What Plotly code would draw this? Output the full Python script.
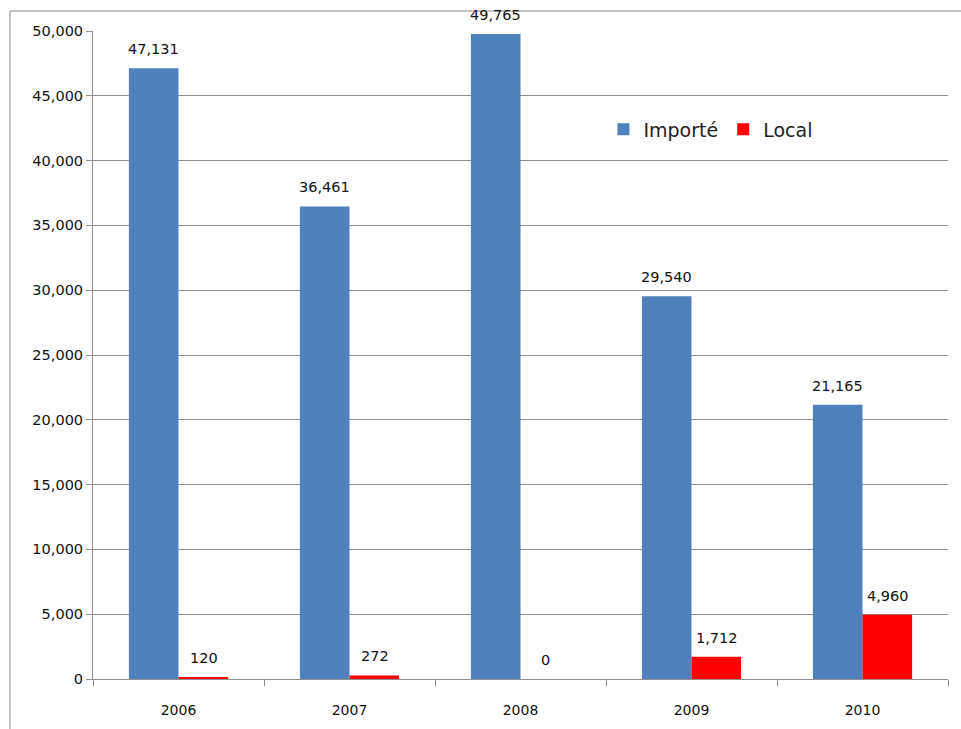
import plotly.graph_objects as go

years = ["2006", "2007", "2008", "2009", "2010"]
importe = [47131, 36461, 49765, 29540, 21165]
local = [120, 272, 0, 1712, 4960]

font_family = "DejaVu Sans, Verdana, sans-serif"

fig = go.Figure()
fig.add_trace(go.Bar(
    x=years, y=importe, name="Importé", marker_color="#4F81BD",
    marker_line_width=0,
))
fig.add_trace(go.Bar(
    x=years, y=local, name="Local", marker_color="#FF0000",
    marker_line_width=0,
))

# data labels above bars (x given as category index)
for vals, shift in ((importe, -25), (local, 25)):
    for i, yv in enumerate(vals):
        fig.add_annotation(
            x=i, y=yv, xref="x", yref="y", text=f"{yv:,}",
            showarrow=False, xshift=shift, yshift=9, yanchor="bottom",
            font=dict(size=14.5, color="#111", family=font_family),
        )

fig.update_layout(
    width=961, height=729,
    margin=dict(l=93, r=13, t=31, b=50),
    paper_bgcolor="white", plot_bgcolor="white",
    barmode="group", bargap=0.42, bargroupgap=0,
    font=dict(family=font_family, color="#111", size=14),
    legend=dict(orientation="h", x=0.597, y=0.848, xanchor="left", yanchor="middle",
                font=dict(size=19, color="#222"), bgcolor="rgba(0,0,0,0)",
                itemwidth=30, traceorder="normal"),
    showlegend=True,
)
fig.update_yaxes(
    range=[0, 50000], dtick=5000, tickformat=",", showgrid=True,
    gridcolor="#8f8f8f", gridwidth=1, showline=True, linecolor="#8f8f8f",
    ticks="outside", ticklen=6, tickcolor="#8f8f8f", zeroline=False,
    tickfont=dict(size=14.5, color="#111"),
)
fig.update_xaxes(
    type="category", categoryorder="array", categoryarray=years,
    range=[-0.5, len(years) - 0.5],
    showline=True, linecolor="#8f8f8f",
    ticks="outside", tickson="boundaries", ticklen=6, tickcolor="#8f8f8f",
    tickfont=dict(size=14, color="#111"), showgrid=False,
    tickmode="array", tickvals=years, ticktext=["<br>" + y for y in years],
)

# outer chart border (left and top visible)
fig.add_shape(type="line", xref="paper", yref="paper",
              x0=(10 - 93) / 855, x1=(10 - 93) / 855,
              y0=1 + (31 - 11) / 648, y1=-0.2,
              line=dict(color="#8a8a8a", width=1))
fig.add_shape(type="line", xref="paper", yref="paper",
              x0=(10 - 93) / 855, x1=1.1,
              y0=1 + (31 - 11) / 648, y1=1 + (31 - 11) / 648,
              line=dict(color="#8a8a8a", width=1))

fig.write_html("out.html")
